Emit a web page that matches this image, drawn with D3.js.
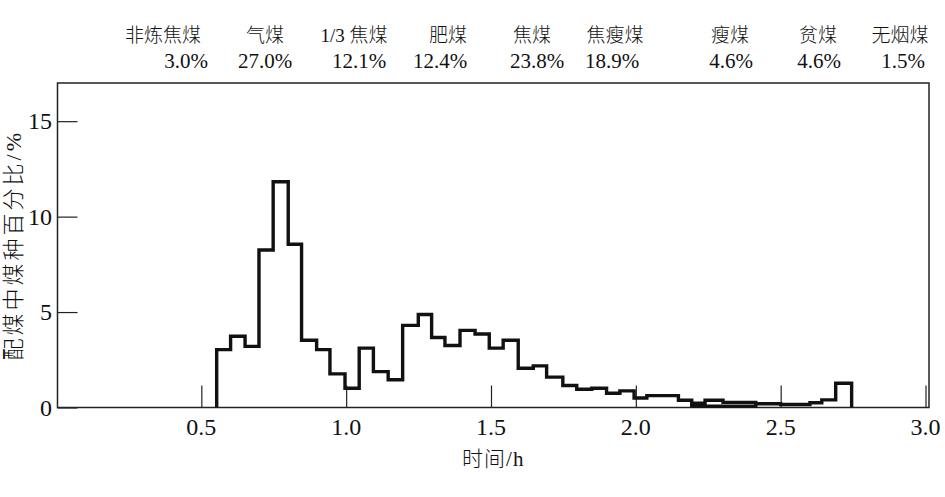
<!DOCTYPE html>
<html>
<head>
<meta charset="utf-8">
<script src="https://cdn.jsdelivr.net/npm/d3@7"></script>
<style>
  body { margin: 0; background: #fff; }
  svg text { font-family: "Liberation Serif", "Noto Sans CJK SC", serif; fill: #111; }
  svg text.cjk { font-weight: 300; }
</style>
</head>
<body>
<svg id="chart1"></svg>
<script>
// coal types and their share in the blend (top of chart)
const coalTypes = ['非炼焦煤', '气煤', '1/3 焦煤', '肥煤', '焦煤', '焦瘦煤', '瘦煤', '贫煤', '无烟煤'];
const coalShares = ['3.0%', '27.0%', '12.1%', '12.4%', '23.8%', '18.9%', '4.6%', '4.6%', '1.5%'];

// histogram: bin edges in hours (one more than values), values in %
const binEdges = [0.553, 0.601, 0.651, 0.699, 0.748, 0.800, 0.846, 0.898, 0.944, 0.996,
  1.045, 1.094, 1.145, 1.195, 1.249, 1.295, 1.341, 1.393, 1.445, 1.494,
  1.542, 1.594, 1.646, 1.692, 1.748, 1.796, 1.848, 1.899, 1.945, 1.994,
  2.038, 2.147, 2.193, 2.239, 2.301, 2.414, 2.500, 2.601, 2.642, 2.690, 2.745];
const binValues = [3.03, 3.73, 3.2, 8.25, 11.83, 8.55, 3.52, 3.03, 1.76, 1.01,
  3.11, 1.88, 1.45, 4.3, 4.87, 3.67, 3.25, 4.04, 3.85, 3.11,
  3.52, 2.06, 2.18, 1.59, 1.15, 0.96, 1.01, 0.75, 0.87, 0.5,
  0.62, 0.38, 0.22, 0.38, 0.27, 0.2, 0.16, 0.25, 0.4, 1.27];

// second faint trace under the main line around 2.2-2.4 h
const lowEdges = [2.193, 2.414];
const lowValues = [0.07];

const xTicks = [0.5, 1.0, 1.5, 2.0, 2.5, 3.0];
const yTicks = [0, 5, 10, 15];

// build the outline of a step histogram
function stepPoints(edges, values) {
  let pts = [[edges[0], 0]];
  values.forEach((v, i) => {
    pts.push([edges[i], v]);
    pts.push([edges[i + 1], v]);
  });
  pts.push([edges[edges.length - 1], 0]);
  return pts;
}

function makeChart1() {
  let w = 945;
  let h = 497;

  // plot frame
  let left = 57.5, right = 929, top = 83, bottom = 407.5;

  let chart1 = d3.select('#chart1')
    .attr('width', w)
    .attr('height', h);

  let xScale = d3.scaleLinear()
    .domain([0, 3])
    .range([56.5, 925.5]);

  let yScale = d3.scaleLinear()
    .domain([0, 17])
    .range([bottom, top]);

  // ticks point inward
  let xAxis = d3.axisTop(xScale)
    .tickValues(xTicks)
    .tickSize(22)
    .tickFormat('');
  let yAxis = d3.axisRight(yScale)
    .tickValues(yTicks)
    .tickSize(20)
    .tickFormat('');

  chart1.append('g')
    .attr('transform', `translate(0, ${bottom})`)
    .call(xAxis)
    .call(g => g.select('.domain').remove())
    .selectAll('line').attr('stroke', '#222').attr('stroke-width', 1.2);

  chart1.append('g')
    .attr('transform', `translate(${left}, 0)`)
    .call(yAxis)
    .call(g => g.select('.domain').remove())
    .selectAll('line').attr('stroke', '#222').attr('stroke-width', 1.2);

  // frame
  chart1.append('rect')
    .attr('x', left)
    .attr('y', top)
    .attr('width', right - left)
    .attr('height', bottom - top)
    .attr('fill', 'none')
    .attr('stroke', '#222')
    .attr('stroke-width', 1.5);

  // tick labels
  chart1.selectAll('.xlab')
    .data(xTicks)
    .enter()
    .append('text')
    .attr('x', (d) => xScale(d))
    .attr('y', 435)
    .attr('text-anchor', 'middle')
    .style('font-size', '24px')
    .text((d) => d.toFixed(1));

  chart1.selectAll('.ylab')
    .data(yTicks)
    .enter()
    .append('text')
    .attr('x', 52)
    .attr('y', (d) => yScale(d) + 8)
    .attr('text-anchor', 'end')
    .style('font-size', '24px')
    .text((d) => d);

  // histogram line
  let line = d3.line()
    .x((d) => xScale(d[0]))
    .y((d) => yScale(d[1]));

  chart1.append('path')
    .attr('d', line(stepPoints(binEdges, binValues)))
    .attr('fill', 'none')
    .attr('stroke', '#111')
    .attr('stroke-width', 3.4)
    .attr('stroke-linejoin', 'miter');

  chart1.append('path')
    .attr('d', line([[lowEdges[0], binValues[32]], [lowEdges[0], lowValues[0]],
      [lowEdges[1], lowValues[0]], [lowEdges[1], binValues[35]]]))
    .attr('fill', 'none')
    .attr('stroke', '#111')
    .attr('stroke-width', 3.4);

  // coal types and shares above the frame
  let nameX = [163, 265, 354, 448, 532, 615, 730, 818, 900];
  let shareX = [186, 265, 359, 440, 537, 612, 731, 819, 903];

  chart1.selectAll('.cname')
    .data(coalTypes)
    .enter()
    .append('text')
    .attr('class', 'cjk')
    .attr('x', (d, i) => nameX[i])
    .attr('y', 42)
    .attr('text-anchor', 'middle')
    .style('font-size', '19px')
    .text((d) => d);

  chart1.selectAll('.cshare')
    .data(coalShares)
    .enter()
    .append('text')
    .attr('x', (d, i) => shareX[i])
    .attr('y', 68)
    .attr('text-anchor', 'middle')
    .style('font-size', '21px')
    .text((d) => d);

  // axis titles
  chart1.append('text')
    .attr('class', 'cjk')
    .attr('x', (left + right) / 2)
    .attr('y', 466)
    .attr('text-anchor', 'middle')
    .style('font-size', '21px')
    .style('letter-spacing', '1px')
    .text('时间/h');

  chart1.append('text')
    .attr('class', 'cjk')
    .attr('transform', `translate(21, ${(top + bottom) / 2}) rotate(-90)`)
    .attr('text-anchor', 'middle')
    .style('font-size', '22px')
    .style('letter-spacing', '3px')
    .text('配煤中煤种百分比/%');
}

window.onload = function () {
  makeChart1();
}
</script>
</body>
</html>
